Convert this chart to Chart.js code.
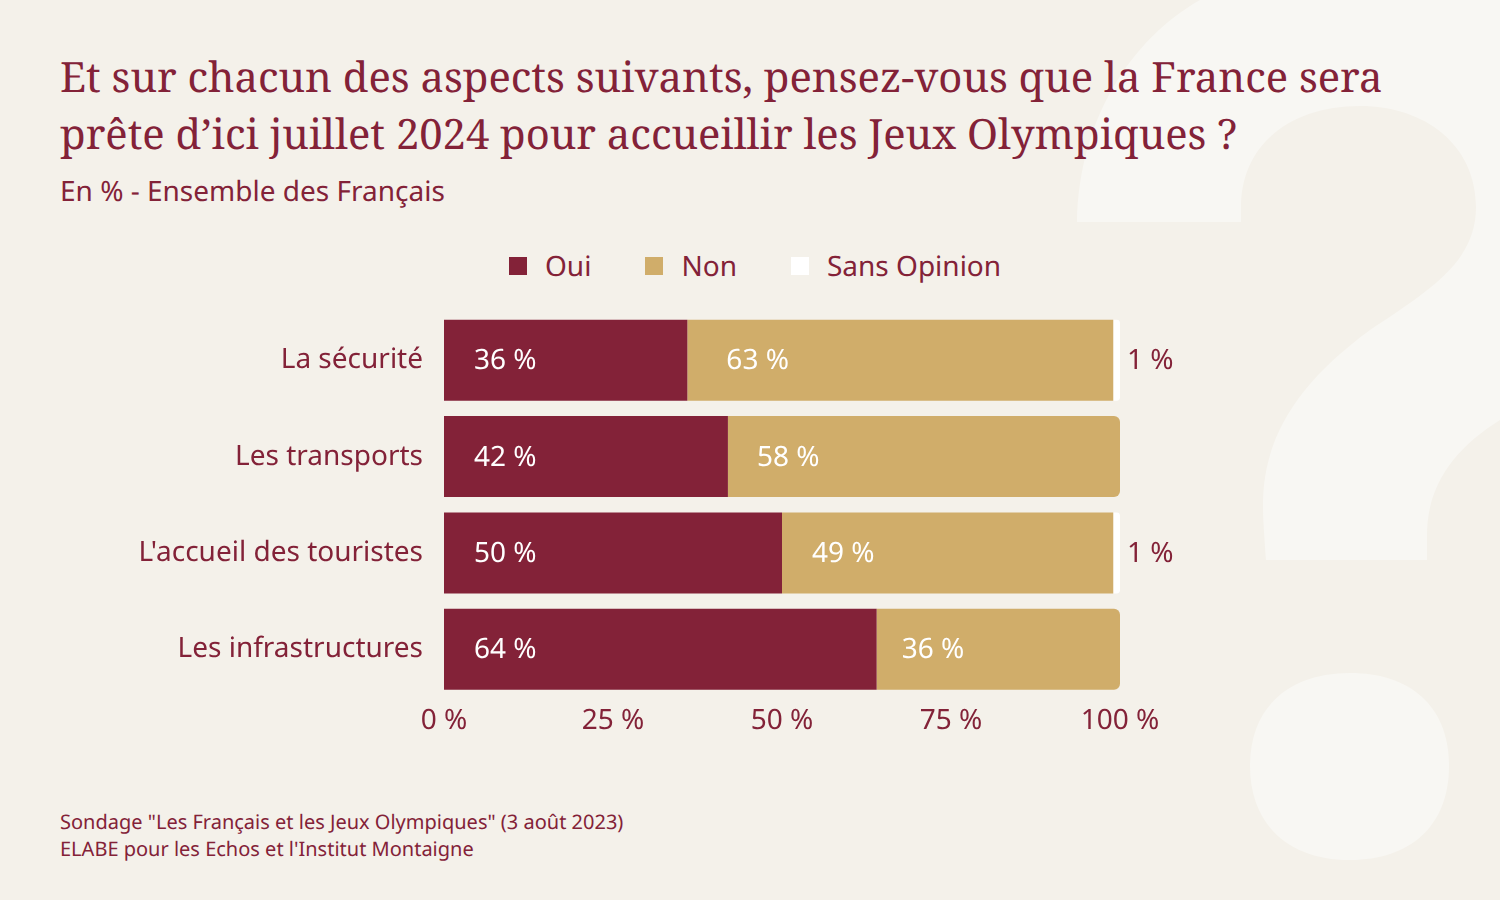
<!DOCTYPE html>
<html lang="fr">
<head>
<meta charset="utf-8">
<title>Jeux Olympiques</title>
<script src="https://cdn.jsdelivr.net/npm/chart.js@4"></script>
<style>
  html, body { margin: 0; padding: 0; }
  body { width: 1500px; height: 900px; background: #f4f1ea; color: #832238; font-family: "Noto Sans", sans-serif; position: relative; overflow: hidden; text-rendering: geometricPrecision; }
  #mark { position: absolute; left: 0; top: 0; width: 1500px; height: 900px; }
  h1 { position: absolute; left: 60px; top: 48px; margin: 0; width: 1400px; font-family: "Noto Serif", "DejaVu Serif", serif; font-weight: 400; font-size: 41.75px; line-height: 57px; }
  #sub { position: absolute; left: 60px; top: 172px; font-size: 28px; line-height: 38px; }
  #legend { position: absolute; left: 509px; top: 247px; display: flex; font-size: 28px; line-height: 38px; white-space: nowrap; }
  #legend span.item { display: flex; align-items: center; margin-right: 54px; }
  #legend i { width: 18px; height: 18px; margin-right: 18px; display: block; }
  #foot { position: absolute; left: 60px; top: 808px; font-size: 20px; line-height: 27px; }
  #wrap { position: absolute; left: 0; top: 0; width: 1500px; height: 900px; }
</style>
</head>
<body>
<!-- point d'interrogation décoratif en fond -->
<svg id="mark" viewBox="0 0 1500 900">
  <path fill="#f8f7f3" d="M1077 222 C1079 120 1130 40 1200 0 L1510 -10 L1510 414 L1500 420 C1455 448 1427 485 1427 535 L1427 560 L1266 560 C1264 530 1263 520 1263 505 C1263 440 1295 385 1370 330 C1430 290 1476 262 1476 207 C1476 145 1425 106 1360 106 C1290 106 1241 145 1241 207 L1241 222 Z"/>
  <path fill="#f8f7f3" d="M1250 766 C1250 706 1290 673 1350 673 C1410 673 1449 706 1449 766 C1449 826 1410 860 1350 860 C1290 860 1250 826 1250 766 Z"/>
</svg>
<h1>Et sur chacun des aspects suivants, pensez-vous que la France sera<br>prête d’ici juillet 2024 pour accueillir les Jeux Olympiques ?</h1>
<div id="sub">En % - Ensemble des Français</div>
<div id="legend"></div>
<div id="foot">Sondage "Les Français et les Jeux Olympiques" (3 août 2023)<br>ELABE pour les Echos et l'Institut Montaigne</div>
<div id="wrap"><canvas id="chart"></canvas></div>
<script>
// Données
const categories = ['La sécurité', 'Les transports', "L'accueil des touristes", 'Les infrastructures'];
const oui = [36, 42, 50, 64];
const non = [63, 58, 49, 36];
const sansOpinion = [1, 0, 1, 0];

const BURGUNDY = '#832238';
const GOLD = '#d0ad6a';
const FONT = '"Noto Sans", sans-serif';

// Décalage du libellé dans le segment "Non", ligne par ligne
const nonLabelInset = [39, 29, 30, 25];

const datasets = [
    { label: 'Oui', data: oui, backgroundColor: BURGUNDY },
    { label: 'Non', data: non, backgroundColor: GOLD },
    { label: 'Sans Opinion', data: sansOpinion, backgroundColor: '#ffffff' }
];

// Légende HTML
const legend = document.getElementById('legend');
datasets.forEach(ds => {
    const item = document.createElement('span');
    item.className = 'item';
    item.innerHTML = `<i style="background:${ds.backgroundColor}"></i>${ds.label}`;
    legend.appendChild(item);
});

// Même rendu du texte dans le canvas que dans le HTML
const textQuality = {
    id: 'textQuality',
    beforeDraw(chart) {
        chart.ctx.textRendering = 'geometricPrecision';
    }
};

// Valeurs écrites sur les barres
const valueLabels = {
    id: 'valueLabels',
    afterDatasetsDraw(chart) {
        const ctx = chart.ctx;
        ctx.save();
        ctx.font = '28px ' + FONT;
        ctx.textAlign = 'left';
        ctx.textBaseline = 'middle';
        chart.data.datasets.forEach((ds, d) => {
            chart.getDatasetMeta(d).data.forEach((bar, i) => {
                const v = ds.data[i];
                if (!v) return;
                if (d === 2) {
                    ctx.fillStyle = BURGUNDY;
                    ctx.fillText(v + ' %', bar.x + 7, bar.y + 1);
                } else {
                    ctx.fillStyle = '#ffffff';
                    ctx.fillText(v + ' %', bar.base + (d === 0 ? 30 : nonLabelInset[i]), bar.y + 1);
                }
            });
        });
        ctx.restore();
    }
};

new Chart(document.getElementById('chart'), {
    type: 'bar',
    data: { labels: categories, datasets: datasets },
    plugins: [textQuality, valueLabels],
    options: {
        indexAxis: 'y',
        responsive: true,
        maintainAspectRatio: false,
        animation: false,
        barPercentage: 0.84,
        categoryPercentage: 1,
        borderRadius: 6,
        layout: { padding: { left: 0, right: 380, top: 312, bottom: 162.5 } },
        plugins: { legend: { display: false }, tooltip: { enabled: false } },
        scales: {
            x: {
                stacked: true,
                min: 0,
                max: 100,
                grid: { display: false },
                border: { display: false },
                afterFit: s => { s.height = 40; },
                ticks: {
                    stepSize: 25,
                    color: BURGUNDY,
                    maxRotation: 0,
                    padding: -1,
                    font: { family: FONT, size: 28 },
                    callback: v => v + ' %'
                }
            },
            y: {
                stacked: true,
                grid: { display: false },
                border: { display: false },
                afterFit: s => { s.width = 444; },
                ticks: {
                    color: BURGUNDY,
                    padding: 13,
                    font: { family: FONT, size: 28 }
                }
            }
        }
    }
});
</script>
</body>
</html>
